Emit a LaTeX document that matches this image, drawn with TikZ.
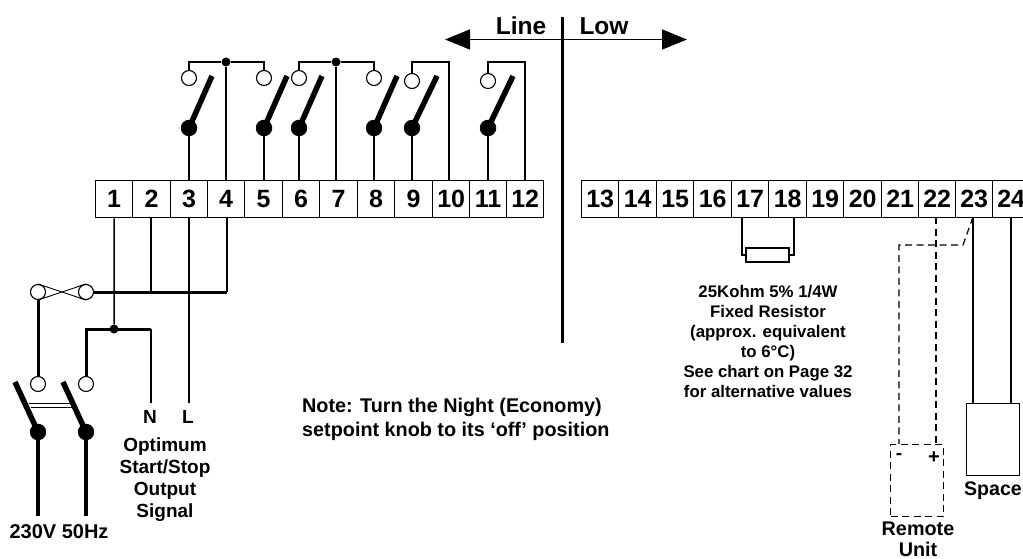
\documentclass[tikz,border=0pt]{standalone}
\usepackage{fontspec}
\setmainfont{Liberation Sans}
\usetikzlibrary{arrows.meta,calc}
\tikzset{
  x=1pt,y=-1pt,
  term/.style={draw,line width=1.3pt,minimum height=37pt,inner sep=0pt,font=\bfseries\fontsize{25}{25}\selectfont,anchor=north west},
  open/.style={circle,draw,line width=1.1pt,fill=white,minimum size=15pt,inner sep=0pt},
  hub/.style={circle,fill=black,minimum size=16.5pt,inner sep=0pt},
  dotj/.style={circle,fill=black,minimum size=9pt,inner sep=0pt},
  wire/.style={line width=1.5pt},
  thick wire/.style={line width=3pt},
  blade/.style={line width=5.5pt},
  dash wire/.style={line width=1.2pt,dash pattern=on 7pt off 4.5pt},
  lbl/.style={font=\bfseries\fontsize{19}{22}\selectfont,align=center,inner sep=0pt},
  small/.style={font=\bfseries\fontsize{16.8}{20}\selectfont,align=center,inner sep=0pt},
}
\newcommand{\terminal}[3]{\node[term,minimum width=#3pt] (t#1) at (#2,180) {#1};}
\begin{document}
\begin{tikzpicture}
\useasboundingbox (0,0) rectangle (1023,559);
\clip (0,0) rectangle (1023,559);
% terminals, left block
\terminal{1}{95}{37}\terminal{2}{132}{38}\terminal{3}{170}{37}\terminal{4}{207}{37}
\terminal{5}{244}{38}\terminal{6}{282}{37}\terminal{7}{319}{38}\terminal{8}{357}{37}
\terminal{9}{394}{38}\terminal{10}{432}{37}\terminal{11}{469}{37}\terminal{12}{506}{37}
% terminals, right block
\terminal{13}{581}{37}\terminal{14}{618}{38}\terminal{15}{656}{37}\terminal{16}{693}{38}
\terminal{17}{731}{37}\terminal{18}{768}{38}\terminal{19}{806}{37}\terminal{20}{843}{38}
\terminal{21}{881}{37}\terminal{22}{918}{37}\terminal{23}{955}{37}\terminal{24}{992}{37}
% upper switches
\foreach \n/\x/\y/\d in {3/189/78/23,5/264/78/23,6/299/78/23,8/374/78/23,9/412/81/25,11/488/81/25}{
  \node[open] (o\n) at (\x,\y) {};
  \node[hub] (h\n) at (\x,128) {};
  \coordinate (b\n) at ($(\x,76)+(\d,0)$);
  \draw[blade] (h\n.center) -- (b\n);
  \draw[wire] (h\n) -- (h\n |- t\n.north);
}
\node[dotj] (j4) at (226,62) {};
\node[dotj] (j7) at (336,62) {};
\coordinate (c10) at (449,62);
\coordinate (c12) at (525,62);
\draw[wire] (o3.north) |- (j4) -| (o5.north);
\draw[wire] (o6.north) |- (j7) -| (o8.north);
\draw[wire] (j4) -- (j4 |- t4.north);
\draw[wire] (j7) -- (j7 |- t7.north);
\draw[wire] (o9.north) |- (c10) -- (c10 |- t10.north);
\draw[wire] (o11.north) |- (c12) -- (c12 |- t12.north);
% line / low
\coordinate (al) at (445,39.5);
\coordinate (ar) at (687,39.5);
\node[inner sep=0pt] (divtop) at (562,16) {};
\node[inner sep=0pt] (divbot) at (562,344) {};
\draw[line width=3pt] (divtop) -- (divbot);
\draw[line width=1.5pt,{Triangle[length=25pt,width=20pt]}-{Triangle[length=25pt,width=20pt]}] (al) -- (ar);
\node[font=\bfseries\fontsize{24.5}{25}\selectfont,inner sep=0pt] (line) at (521,26) {Line};
\node[font=\bfseries\fontsize{24.5}{25}\selectfont,inner sep=0pt] (low) at (604,26) {Low};
% lower-left wiring
\node[open] (x1) at (38,292) {};
\node[open] (x2) at (86,292) {};
\coordinate (bus4) at (227,292);
\node[open] (m1) at (38,384) {};
\node[open] (m2) at (86,384) {};
\node[hub] (f1) at (38,432) {};
\node[hub] (f2) at (86,432) {};
\node[dotj] (j1) at (114,329) {};
\coordinate (nn) at (151,329);
\coordinate (nend) at (151,403);
\coordinate (lend) at (189,403);
\coordinate (bus2) at (151,292);
\coordinate (bl1) at (15,382);
\coordinate (bl2) at (63,382);
\coordinate (in1) at (38,516);
\coordinate (in2) at (86,516);
\coordinate (tw4) at (227,217);
\draw[wire] (t1.south) -- (j1);
\draw[wire] (t2.south -| bus2) -- (bus2);
\draw[wire] (t3.south) -- (t3.south |- lend) coordinate (lendb);
\draw[wire] (tw4) -- (bus4);
\draw[wire] (nn) -- (nend);
\draw[thick wire] (x2.east) -- (bus4);
\draw[thick wire] (x1.south) -- (m1.north);
\draw[thick wire] (m2.north) |- (nn);
\draw[line width=0.9pt] (x1.north) -- (x2.south);
\draw[line width=0.9pt] (x1.south) -- (x2.north);
\draw[blade] (f1.center) -- (bl1);
\draw[blade] (f2.center) -- (bl2);
\coordinate (l1a) at (29,403);\coordinate (l1b) at (71,403);
\coordinate (l2a) at (31,407);\coordinate (l2b) at (72,407);
\draw[line width=0.9pt] (l1a) -- (l1b);
\draw[line width=0.9pt] (l2a) -- (l2b);
\draw[line width=3.6pt] (f1) -- (in1);
\draw[line width=3.6pt] (f2) -- (in2);
\node[lbl] (tn) at (150,417) {N};
\node[lbl] (tl) at (188,417) {L};
\node[lbl] (opt) at (165,480) {Optimum\\Start/Stop\\Output\\Signal};
\node[lbl,font=\bfseries\fontsize{20}{22}\selectfont] (mains) at (59,532) {230V 50Hz};
\node[lbl,align=left,anchor=west,font=\bfseries\fontsize{19.8}{24}\selectfont] (note) at (302,419) {Note: Turn the Night (Economy)\\setpoint knob to its ‘off’ position};
% resistor
\node[draw,line width=1.2pt,minimum width=43pt,minimum height=14pt,inner sep=0pt] (res) at (767.5,255) {};
\coordinate (r17) at (742,217);
\coordinate (r18) at (794,217);
\draw[wire] (r17) |- (res.west);
\draw[wire] (r18) |- (res.east);
\node[small] (restxt) at (768,341) {25Kohm 5\% 1/4W\\Fixed Resistor\\(approx. equivalent\\to 6°C)\\See chart on Page 32\\for alternative values};
% remote unit
\node[draw,dash wire,minimum width=53pt,minimum height=72pt,inner sep=0pt,anchor=north west] (rem) at (890,444) {};
\coordinate (d22) at (936,217);
\coordinate (d22b) at (936,444);
\coordinate (d23) at (973,217);
\coordinate (d23k) at (963,245);
\coordinate (dk) at (899,245);
\coordinate (dkb) at (899,444);
\draw[dash wire] (d22) -- (d22b);
\draw[dash wire] (d23) -- (d23k) -- (dk) -- (dkb);
\node[lbl] (minus) at (899,456) {-};
\node[lbl,font=\bfseries\fontsize{20}{20}\selectfont] (plus) at (934,458) {+};
\node[lbl,font=\bfseries\fontsize{19.8}{20.5}\selectfont] (remtxt) at (918,539.5) {Remote\\Unit};
% space sensor
\node[draw,line width=1.4pt,minimum width=53pt,minimum height=72pt,inner sep=0pt,anchor=north west] (sp) at (966,403) {};
\coordinate (s23) at (973,217);
\coordinate (s24) at (1011,217);
\draw[wire] (s23) -- (s23 |- sp.north);
\draw[wire] (s24) -- (s24 |- sp.north);
\node[lbl,font=\bfseries\fontsize{19.6}{20}\selectfont,anchor=east] (sptxt) at (1022,491) {Space};
\end{tikzpicture}
\end{document}
